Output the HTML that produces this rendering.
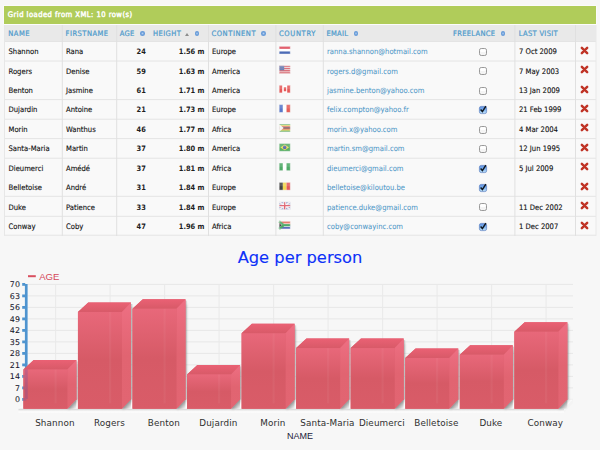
<!DOCTYPE html>
<html lang="en"><head><meta charset="utf-8"><title>EditableGrid demo</title>
<style>
html,body{margin:0;padding:0;}
body{width:600px;height:450px;overflow:hidden;background:#f7f7f7;position:relative;
 font-family:"DejaVu Sans Condensed","DejaVu Sans","Liberation Sans",sans-serif;font-size:7.6px;color:#111;}
#under{position:absolute;left:0;top:0;width:600px;height:450px;}
#cap{position:absolute;left:4px;top:6px;width:592px;height:18px;background:#b0cc5a;color:#fff;box-shadow:0 0 0 0.8px #fcfcfc;
 font:normal 7.6px/18px "DejaVu Sans Condensed","DejaVu Sans","Liberation Sans",sans-serif;text-indent:3.8px;white-space:nowrap;letter-spacing:0.45px;-webkit-text-stroke:0.4px;}
.hc,.c{position:absolute;white-space:nowrap;}
.hc{top:25px;height:16.5px;color:#4f9bcc;text-transform:uppercase;-webkit-text-stroke:0.22px;font:normal 7.5px/17.4px "DejaVu Sans Condensed","DejaVu Sans","Liberation Sans",sans-serif;}
.r{position:absolute;left:0;width:600px;height:19.44px;}
.c{top:0.6px;height:19.44px;line-height:19.44px;letter-spacing:0;-webkit-text-stroke:0.12px;}
.num{font-weight:bold;font-size:7.4px;text-align:right;letter-spacing:0;-webkit-text-stroke:0;color:#1e1e1e;}
.em{color:#4f98c8;-webkit-text-stroke:0.05px;}
.i{display:inline-block;width:4.7px;height:4.7px;border-radius:50%;background:radial-gradient(circle,#b4cef0 0,#94b9e6 18%,#6c9fda 42%,#5c92d4 100%);vertical-align:-0.1px;margin-left:5.3px;box-sizing:border-box;}
.up{display:inline-block;width:0;height:0;border-left:2.1px solid transparent;border-right:2.1px solid transparent;border-bottom:3px solid #8c8c8c;margin-left:4px;vertical-align:0.2px;}
.cb{position:absolute;width:8px;height:8px;top:6.4px;}
.x{position:absolute;top:4.2px;width:9px;height:9px;}
#chart{position:absolute;left:0;top:236px;width:600px;height:214px;}
</style></head><body>

<svg id="under" viewBox="0 0 600 450" width="600" height="450">
<defs><linearGradient id="cg" x1="0" y1="0" x2="0" y2="1"><stop offset="0" stop-color="#5f8fe0"/><stop offset="0.5" stop-color="#7fb4f0"/><stop offset="1" stop-color="#c4e4fa"/></linearGradient></defs>
<rect x="4.5" y="24" width="591.5" height="1.2" fill="#fdfdfd"/>
<rect x="4.5" y="25.0" width="591.5" height="16.5" fill="#e9e9e9"/>
<rect x="4.5" y="41.5" width="591.5" height="194.40" fill="#f9f9f9"/>
<line x1="4.5" y1="41.5" x2="596.0" y2="41.5" stroke="#e4e4e4" stroke-width="1"/>
<line x1="4.5" y1="61.0" x2="596.0" y2="61.0" stroke="#e4e4e4" stroke-width="1"/>
<line x1="4.5" y1="99.6" x2="596.0" y2="99.6" stroke="#e4e4e4" stroke-width="1"/>
<line x1="4.5" y1="119.2" x2="596.0" y2="119.2" stroke="#e4e4e4" stroke-width="1"/>
<line x1="4.5" y1="138.6" x2="596.0" y2="138.6" stroke="#e4e4e4" stroke-width="1"/>
<line x1="4.5" y1="158.2" x2="596.0" y2="158.2" stroke="#e4e4e4" stroke-width="1"/>
<line x1="4.5" y1="196.3" x2="596.0" y2="196.3" stroke="#e4e4e4" stroke-width="1"/>
<line x1="4.5" y1="216.3" x2="596.0" y2="216.3" stroke="#e4e4e4" stroke-width="1"/>
<line x1="4.5" y1="235.2" x2="596.0" y2="235.2" stroke="#e4e4e4" stroke-width="1"/>
<line x1="62.3" y1="25.0" x2="62.3" y2="235.90" stroke="#e0e0e0" stroke-width="1"/>
<line x1="116.7" y1="25.0" x2="116.7" y2="235.90" stroke="#e0e0e0" stroke-width="1"/>
<line x1="208.5" y1="25.0" x2="208.5" y2="235.90" stroke="#e0e0e0" stroke-width="1"/>
<line x1="275.9" y1="25.0" x2="275.9" y2="235.90" stroke="#e0e0e0" stroke-width="1"/>
<line x1="323.3" y1="25.0" x2="323.3" y2="235.90" stroke="#e0e0e0" stroke-width="1"/>
<line x1="514.9" y1="25.0" x2="514.9" y2="235.90" stroke="#e0e0e0" stroke-width="1"/>
<line x1="575.5" y1="25.0" x2="575.5" y2="235.90" stroke="#e0e0e0" stroke-width="1"/>
<line x1="4.5" y1="25.0" x2="4.5" y2="235.90" stroke="#e7e7e7" stroke-width="1"/>
<line x1="596.0" y1="25.0" x2="596.0" y2="235.90" stroke="#e9e9e9" stroke-width="1"/>
<g transform="translate(279.2,46.4)"><rect x="0" y="0" width="11.0" height="2.533333333333333" fill="#d8283c"/><rect x="0" y="2.533333333333333" width="11.0" height="2.533333333333333" fill="#fff"/><rect x="0" y="5.066666666666666" width="11.0" height="2.533333333333333" fill="#2a4fa8"/><rect x="0" y="0" width="11.0" height="7.6" fill="#fff" opacity="0.16"/><rect x="0" y="0" width="11.0" height="3.8" fill="#fff" opacity="0.12"/><rect x="0" y="0" width="11.0" height="7.6" fill="none" stroke="#f4f4f4" stroke-opacity="0.6" stroke-width="0.7"/></g>
<g transform="translate(279.2,65.84)"><rect x="0" y="0" width="11.0" height="7.6" fill="#e9c9cc"/><rect x="0" y="0.0" width="11.0" height="1.0857142857142856" fill="#d0404c"/><rect x="0" y="2.1714285714285713" width="11.0" height="1.0857142857142856" fill="#d0404c"/><rect x="0" y="4.3428571428571425" width="11.0" height="1.0857142857142856" fill="#d0404c"/><rect x="0" y="6.514285714285713" width="11.0" height="1.0857142857142856" fill="#d0404c"/><rect x="0" y="0" width="5" height="4.4" fill="#4a5fa0"/><rect x="0" y="0" width="11.0" height="7.6" fill="#fff" opacity="0.16"/><rect x="0" y="0" width="11.0" height="3.8" fill="#fff" opacity="0.12"/><rect x="0" y="0" width="11.0" height="7.6" fill="none" stroke="#f4f4f4" stroke-opacity="0.6" stroke-width="0.7"/></g>
<g transform="translate(279.2,85.28)"><rect x="0" y="0" width="11.0" height="7.6" fill="#fff"/><rect x="0" y="0" width="3" height="7.6" fill="#e03a3a"/><rect x="8.0" y="0" width="3" height="7.6" fill="#e03a3a"/><rect x="4.6" y="2" width="2.4" height="4" fill="#e03a3a"/><rect x="0" y="0" width="11.0" height="7.6" fill="#fff" opacity="0.16"/><rect x="0" y="0" width="11.0" height="3.8" fill="#fff" opacity="0.12"/><rect x="0" y="0" width="11.0" height="7.6" fill="none" stroke="#f4f4f4" stroke-opacity="0.6" stroke-width="0.7"/></g>
<g transform="translate(279.2,104.72)"><rect x="0" y="0" width="3.6666666666666665" height="7.6" fill="#3a5fc0"/><rect x="3.6666666666666665" y="0" width="3.6666666666666665" height="7.6" fill="#fff"/><rect x="7.333333333333333" y="0" width="3.6666666666666665" height="7.6" fill="#e0403a"/><rect x="0" y="0" width="11.0" height="7.6" fill="#fff" opacity="0.16"/><rect x="0" y="0" width="11.0" height="3.8" fill="#fff" opacity="0.12"/><rect x="0" y="0" width="11.0" height="7.6" fill="none" stroke="#f4f4f4" stroke-opacity="0.6" stroke-width="0.7"/></g>
<g transform="translate(279.2,124.16)"><rect x="0" y="0.0" width="11.0" height="1.1857142857142857" fill="#3a9a3a"/><rect x="0" y="1.0857142857142856" width="11.0" height="1.1857142857142857" fill="#e8d040"/><rect x="0" y="2.1714285714285713" width="11.0" height="1.1857142857142857" fill="#d03030"/><rect x="0" y="3.2571428571428567" width="11.0" height="1.1857142857142857" fill="#222"/><rect x="0" y="4.3428571428571425" width="11.0" height="1.1857142857142857" fill="#d03030"/><rect x="0" y="5.428571428571429" width="11.0" height="1.1857142857142857" fill="#e8d040"/><rect x="0" y="6.514285714285713" width="11.0" height="1.1857142857142857" fill="#3a9a3a"/><polygon points="0,0 4.5,3.8 0,7.6" fill="#f4f4f4"/><rect x="0" y="0" width="11.0" height="7.6" fill="#fff" opacity="0.16"/><rect x="0" y="0" width="11.0" height="3.8" fill="#fff" opacity="0.12"/><rect x="0" y="0" width="11.0" height="7.6" fill="none" stroke="#f4f4f4" stroke-opacity="0.6" stroke-width="0.7"/></g>
<g transform="translate(279.2,143.6)"><rect x="0" y="0" width="11.0" height="7.6" fill="#3aa04a"/><polygon points="1.2,3.8 5.5,1 9.8,3.8 5.5,6.6" fill="#f0d840"/><circle cx="5.5" cy="3.8" r="1.8" fill="#3a50a0"/><rect x="0" y="0" width="11.0" height="7.6" fill="#fff" opacity="0.16"/><rect x="0" y="0" width="11.0" height="3.8" fill="#fff" opacity="0.12"/><rect x="0" y="0" width="11.0" height="7.6" fill="none" stroke="#f4f4f4" stroke-opacity="0.6" stroke-width="0.7"/></g>
<g transform="translate(279.2,163.04)"><rect x="0" y="0" width="3.6666666666666665" height="7.6" fill="#2e9a4a"/><rect x="3.6666666666666665" y="0" width="3.6666666666666665" height="7.6" fill="#fff"/><rect x="7.333333333333333" y="0" width="3.6666666666666665" height="7.6" fill="#2e9a4a"/><rect x="0" y="0" width="11.0" height="7.6" fill="#fff" opacity="0.16"/><rect x="0" y="0" width="11.0" height="3.8" fill="#fff" opacity="0.12"/><rect x="0" y="0" width="11.0" height="7.6" fill="none" stroke="#f4f4f4" stroke-opacity="0.6" stroke-width="0.7"/></g>
<g transform="translate(279.2,182.48)"><rect x="0" y="0" width="3.6666666666666665" height="7.6" fill="#222"/><rect x="3.6666666666666665" y="0" width="3.6666666666666665" height="7.6" fill="#f0d030"/><rect x="7.333333333333333" y="0" width="3.6666666666666665" height="7.6" fill="#e03a3a"/><rect x="0" y="0" width="11.0" height="7.6" fill="#fff" opacity="0.16"/><rect x="0" y="0" width="11.0" height="3.8" fill="#fff" opacity="0.12"/><rect x="0" y="0" width="11.0" height="7.6" fill="none" stroke="#f4f4f4" stroke-opacity="0.6" stroke-width="0.7"/></g>
<g transform="translate(279.2,201.92)"><rect x="0" y="0" width="11.0" height="7.6" fill="#8a96c8"/><path d="M0,0 L11.0,7.6 M11.0,0 L0,7.6" stroke="#f0e8ee" stroke-width="1.6"/><path d="M5.5,0 V7.6 M0,3.8 H11.0" stroke="#fff" stroke-width="2.6"/><path d="M5.5,0 V7.6 M0,3.8 H11.0" stroke="#d84050" stroke-width="1.3"/><rect x="0" y="0" width="11.0" height="7.6" fill="#fff" opacity="0.16"/><rect x="0" y="0" width="11.0" height="3.8" fill="#fff" opacity="0.12"/><rect x="0" y="0" width="11.0" height="7.6" fill="none" stroke="#f4f4f4" stroke-opacity="0.6" stroke-width="0.7"/></g>
<g transform="translate(279.2,221.36)"><rect x="0" y="0" width="11.0" height="3.8" fill="#e0503a"/><rect x="0" y="3.8" width="11.0" height="3.8" fill="#3a50b0"/><path d="M0,3.8 H11.0" stroke="#fff" stroke-width="3.4"/><path d="M0,0 L4.6,3.8 L0,7.6 M4.6,3.8 H11.0" stroke="#2e9a4a" stroke-width="2.2" fill="none"/><polygon points="0,1.6 2.6,3.8 0,6.0" fill="#222"/><rect x="0" y="0" width="11.0" height="7.6" fill="#fff" opacity="0.16"/><rect x="0" y="0" width="11.0" height="3.8" fill="#fff" opacity="0.12"/><rect x="0" y="0" width="11.0" height="7.6" fill="none" stroke="#f4f4f4" stroke-opacity="0.6" stroke-width="0.7"/></g>
</svg>
<div id="cap">Grid loaded from XML: 10 row(s)</div>
<div class="hc" style="left:8.3px;letter-spacing:0.5px">NAME</div>
<div class="hc" style="left:65.6px;letter-spacing:0.47px">FIRSTNAME</div>
<div class="hc" style="left:119.8px;letter-spacing:0.3px">AGE<span class="i"></span></div>
<div class="hc" style="left:153.0px;letter-spacing:0.42px">HEIGHT<span class="up"></span><span class="i"></span></div>
<div class="hc" style="left:211.5px;letter-spacing:0.55px">CONTINENT<span class="i"></span></div>
<div class="hc" style="left:279.0px;letter-spacing:0.65px">COUNTRY</div>
<div class="hc" style="left:326.4px;letter-spacing:0.28px">EMAIL<span class="i"></span></div>
<div class="hc" style="left:453.0px;letter-spacing:0.3px">FREELANCE<span class="i"></span></div>
<div class="hc" style="left:518.7px;letter-spacing:0.33px">LAST VISIT</div>
<div class="r" style="top:41.50px"><span class="c" style="left:8.5px">Shannon</span><span class="c" style="left:66px">Rana</span><span class="c num" style="left:120px;width:25.8px">24</span><span class="c num" style="left:153px;width:51.5px">1.56 m</span><span class="c" style="left:212px">Europe</span><span class="c em" style="left:327px">ranna.shannon@hotmail.com</span><svg class="cb" style="left:479px" viewBox="0 0 8 8"><rect x="0.5" y="0.5" width="7" height="7" rx="1.8" fill="#f4f4f4" stroke="#8e8e8e" stroke-width="0.9"/><rect x="1.3" y="1.3" width="5.4" height="2.6" rx="1" fill="#fff"/></svg><span class="c" style="left:519px">7 Oct 2009</span><svg class="x" style="left:580.2px" viewBox="0 0 9 9"><path d="M1.85,1.85 L7.15,7.15 M7.15,1.85 L1.85,7.15" stroke="#c03426" stroke-width="2.5" stroke-linecap="round"/></svg></div>
<div class="r" style="top:60.94px"><span class="c" style="left:8.5px">Rogers</span><span class="c" style="left:66px">Denise</span><span class="c num" style="left:120px;width:25.8px">59</span><span class="c num" style="left:153px;width:51.5px">1.63 m</span><span class="c" style="left:212px">America</span><span class="c em" style="left:327px">rogers.d@gmail.com</span><svg class="cb" style="left:479px" viewBox="0 0 8 8"><rect x="0.5" y="0.5" width="7" height="7" rx="1.8" fill="#f4f4f4" stroke="#8e8e8e" stroke-width="0.9"/><rect x="1.3" y="1.3" width="5.4" height="2.6" rx="1" fill="#fff"/></svg><span class="c" style="left:519px">7 May 2003</span><svg class="x" style="left:580.2px" viewBox="0 0 9 9"><path d="M1.85,1.85 L7.15,7.15 M7.15,1.85 L1.85,7.15" stroke="#c03426" stroke-width="2.5" stroke-linecap="round"/></svg></div>
<div class="r" style="top:80.38px"><span class="c" style="left:8.5px">Benton</span><span class="c" style="left:66px">Jasmine</span><span class="c num" style="left:120px;width:25.8px">61</span><span class="c num" style="left:153px;width:51.5px">1.71 m</span><span class="c" style="left:212px">America</span><span class="c em" style="left:327px">jasmine.benton@yahoo.com</span><svg class="cb" style="left:479px" viewBox="0 0 8 8"><rect x="0.5" y="0.5" width="7" height="7" rx="1.8" fill="#f4f4f4" stroke="#8e8e8e" stroke-width="0.9"/><rect x="1.3" y="1.3" width="5.4" height="2.6" rx="1" fill="#fff"/></svg><span class="c" style="left:519px">13 Jan 2009</span><svg class="x" style="left:580.2px" viewBox="0 0 9 9"><path d="M1.85,1.85 L7.15,7.15 M7.15,1.85 L1.85,7.15" stroke="#c03426" stroke-width="2.5" stroke-linecap="round"/></svg></div>
<div class="r" style="top:99.82px"><span class="c" style="left:8.5px">Dujardin</span><span class="c" style="left:66px">Antoine</span><span class="c num" style="left:120px;width:25.8px">21</span><span class="c num" style="left:153px;width:51.5px">1.73 m</span><span class="c" style="left:212px">Europe</span><span class="c em" style="left:327px">felix.compton@yahoo.fr</span><svg class="cb" style="left:479px;overflow:visible" viewBox="0 0 8 8"><rect x="0.4" y="0.4" width="7.2" height="7.2" rx="1.8" fill="url(#cg)" stroke="#5c7fc0" stroke-width="0.7"/><path d="M1.6,3.6 L3.4,5.6 L6.9,0.1" fill="none" stroke="#101820" stroke-width="1.5" stroke-linejoin="miter"/></svg><span class="c" style="left:519px">21 Feb 1999</span><svg class="x" style="left:580.2px" viewBox="0 0 9 9"><path d="M1.85,1.85 L7.15,7.15 M7.15,1.85 L1.85,7.15" stroke="#c03426" stroke-width="2.5" stroke-linecap="round"/></svg></div>
<div class="r" style="top:119.26px"><span class="c" style="left:8.5px">Morin</span><span class="c" style="left:66px">Wanthus</span><span class="c num" style="left:120px;width:25.8px">46</span><span class="c num" style="left:153px;width:51.5px">1.77 m</span><span class="c" style="left:212px">Africa</span><span class="c em" style="left:327px">morin.x@yahoo.com</span><svg class="cb" style="left:479px" viewBox="0 0 8 8"><rect x="0.5" y="0.5" width="7" height="7" rx="1.8" fill="#f4f4f4" stroke="#8e8e8e" stroke-width="0.9"/><rect x="1.3" y="1.3" width="5.4" height="2.6" rx="1" fill="#fff"/></svg><span class="c" style="left:519px">4 Mar 2004</span><svg class="x" style="left:580.2px" viewBox="0 0 9 9"><path d="M1.85,1.85 L7.15,7.15 M7.15,1.85 L1.85,7.15" stroke="#c03426" stroke-width="2.5" stroke-linecap="round"/></svg></div>
<div class="r" style="top:138.70px"><span class="c" style="left:8.5px">Santa-Maria</span><span class="c" style="left:66px">Martin</span><span class="c num" style="left:120px;width:25.8px">37</span><span class="c num" style="left:153px;width:51.5px">1.80 m</span><span class="c" style="left:212px">America</span><span class="c em" style="left:327px">martin.sm@gmail.com</span><svg class="cb" style="left:479px" viewBox="0 0 8 8"><rect x="0.5" y="0.5" width="7" height="7" rx="1.8" fill="#f4f4f4" stroke="#8e8e8e" stroke-width="0.9"/><rect x="1.3" y="1.3" width="5.4" height="2.6" rx="1" fill="#fff"/></svg><span class="c" style="left:519px">12 Jun 1995</span><svg class="x" style="left:580.2px" viewBox="0 0 9 9"><path d="M1.85,1.85 L7.15,7.15 M7.15,1.85 L1.85,7.15" stroke="#c03426" stroke-width="2.5" stroke-linecap="round"/></svg></div>
<div class="r" style="top:158.14px"><span class="c" style="left:8.5px">Dieumerci</span><span class="c" style="left:66px">Amédé</span><span class="c num" style="left:120px;width:25.8px">37</span><span class="c num" style="left:153px;width:51.5px">1.81 m</span><span class="c" style="left:212px">Africa</span><span class="c em" style="left:327px">dieumerci@gmail.com</span><svg class="cb" style="left:479px;overflow:visible" viewBox="0 0 8 8"><rect x="0.4" y="0.4" width="7.2" height="7.2" rx="1.8" fill="url(#cg)" stroke="#5c7fc0" stroke-width="0.7"/><path d="M1.6,3.6 L3.4,5.6 L6.9,0.1" fill="none" stroke="#101820" stroke-width="1.5" stroke-linejoin="miter"/></svg><span class="c" style="left:519px">5 Jul 2009</span><svg class="x" style="left:580.2px" viewBox="0 0 9 9"><path d="M1.85,1.85 L7.15,7.15 M7.15,1.85 L1.85,7.15" stroke="#c03426" stroke-width="2.5" stroke-linecap="round"/></svg></div>
<div class="r" style="top:177.58px"><span class="c" style="left:8.5px">Belletoise</span><span class="c" style="left:66px">André</span><span class="c num" style="left:120px;width:25.8px">31</span><span class="c num" style="left:153px;width:51.5px">1.84 m</span><span class="c" style="left:212px">Europe</span><span class="c em" style="left:327px">belletoise@kiloutou.be</span><svg class="cb" style="left:479px;overflow:visible" viewBox="0 0 8 8"><rect x="0.4" y="0.4" width="7.2" height="7.2" rx="1.8" fill="url(#cg)" stroke="#5c7fc0" stroke-width="0.7"/><path d="M1.6,3.6 L3.4,5.6 L6.9,0.1" fill="none" stroke="#101820" stroke-width="1.5" stroke-linejoin="miter"/></svg><span class="c" style="left:519px"></span><svg class="x" style="left:580.2px" viewBox="0 0 9 9"><path d="M1.85,1.85 L7.15,7.15 M7.15,1.85 L1.85,7.15" stroke="#c03426" stroke-width="2.5" stroke-linecap="round"/></svg></div>
<div class="r" style="top:197.02px"><span class="c" style="left:8.5px">Duke</span><span class="c" style="left:66px">Patience</span><span class="c num" style="left:120px;width:25.8px">33</span><span class="c num" style="left:153px;width:51.5px">1.84 m</span><span class="c" style="left:212px">Europe</span><span class="c em" style="left:327px">patience.duke@gmail.com</span><svg class="cb" style="left:479px" viewBox="0 0 8 8"><rect x="0.5" y="0.5" width="7" height="7" rx="1.8" fill="#f4f4f4" stroke="#8e8e8e" stroke-width="0.9"/><rect x="1.3" y="1.3" width="5.4" height="2.6" rx="1" fill="#fff"/></svg><span class="c" style="left:519px">11 Dec 2002</span><svg class="x" style="left:580.2px" viewBox="0 0 9 9"><path d="M1.85,1.85 L7.15,7.15 M7.15,1.85 L1.85,7.15" stroke="#c03426" stroke-width="2.5" stroke-linecap="round"/></svg></div>
<div class="r" style="top:216.46px"><span class="c" style="left:8.5px">Conway</span><span class="c" style="left:66px">Coby</span><span class="c num" style="left:120px;width:25.8px">47</span><span class="c num" style="left:153px;width:51.5px">1.96 m</span><span class="c" style="left:212px">Africa</span><span class="c em" style="left:327px">coby@conwayinc.com</span><svg class="cb" style="left:479px;overflow:visible" viewBox="0 0 8 8"><rect x="0.4" y="0.4" width="7.2" height="7.2" rx="1.8" fill="url(#cg)" stroke="#5c7fc0" stroke-width="0.7"/><path d="M1.6,3.6 L3.4,5.6 L6.9,0.1" fill="none" stroke="#101820" stroke-width="1.5" stroke-linejoin="miter"/></svg><span class="c" style="left:519px">1 Dec 2007</span><svg class="x" style="left:580.2px" viewBox="0 0 9 9"><path d="M1.85,1.85 L7.15,7.15 M7.15,1.85 L1.85,7.15" stroke="#c03426" stroke-width="2.5" stroke-linecap="round"/></svg></div>
<svg id="chart" viewBox="0 236 600 214" width="600" height="214">
<defs>
<linearGradient id="gf" x1="0" y1="0" x2="0" y2="1"><stop offset="0" stop-color="#e8687a"/><stop offset="0.5" stop-color="#d65a66"/><stop offset="1" stop-color="#d95c68"/></linearGradient>
<linearGradient id="gs" x1="0" y1="0" x2="0" y2="1"><stop offset="0" stop-color="#ee6f83"/><stop offset="0.5" stop-color="#e16471"/><stop offset="1" stop-color="#e26572"/></linearGradient>
<linearGradient id="gt" x1="0" y1="0" x2="0" y2="1"><stop offset="0" stop-color="#ea6174"/><stop offset="1" stop-color="#d85a68"/></linearGradient>
<linearGradient id="gfl" x1="0" y1="0" x2="0" y2="1"><stop offset="0" stop-color="#d3d3d3"/><stop offset="0.28" stop-color="#e6e6e6"/><stop offset="0.5" stop-color="#fafafa"/><stop offset="0.85" stop-color="#fbfbfb"/><stop offset="1" stop-color="#f7f7f7"/></linearGradient>
<linearGradient id="gtri" x1="0.5" y1="0.5" x2="1" y2="1"><stop offset="0" stop-color="#8e8e8e" stop-opacity="0.95"/><stop offset="0.55" stop-color="#c4c4c4" stop-opacity="0.8"/><stop offset="1" stop-color="#f0f0f0" stop-opacity="0.5"/></linearGradient>
<linearGradient id="gstr" x1="0" y1="0" x2="1" y2="0"><stop offset="0" stop-color="#888" stop-opacity="0.6"/><stop offset="1" stop-color="#aaa" stop-opacity="0"/></linearGradient>
<filter id="sh" x="-20%" y="-20%" width="150%" height="140%"><feGaussianBlur stdDeviation="1.3"/></filter>
</defs>
<text x="300" y="263.3" text-anchor="middle" font-family="'DejaVu Sans','Liberation Sans',sans-serif" font-size="16.3" fill="#0d31f8" stroke="#0d31f8" stroke-width="0.12">Age per person</text>
<rect x="28" y="275.2" width="7.8" height="2" fill="#d9505f"/>
<text x="39.2" y="279.7" font-family="'Liberation Sans',sans-serif" font-size="9.6" fill="#d5485a">AGE</text>
<line x1="27.5" y1="399.40" x2="573.0" y2="399.40" stroke="#e7e7e7" stroke-width="1"/>
<line x1="27.5" y1="387.90" x2="573.0" y2="387.90" stroke="#e7e7e7" stroke-width="1"/>
<line x1="27.5" y1="376.40" x2="573.0" y2="376.40" stroke="#e7e7e7" stroke-width="1"/>
<line x1="27.5" y1="364.90" x2="573.0" y2="364.90" stroke="#e7e7e7" stroke-width="1"/>
<line x1="27.5" y1="353.40" x2="573.0" y2="353.40" stroke="#e7e7e7" stroke-width="1"/>
<line x1="27.5" y1="341.90" x2="573.0" y2="341.90" stroke="#e7e7e7" stroke-width="1"/>
<line x1="27.5" y1="330.40" x2="573.0" y2="330.40" stroke="#e7e7e7" stroke-width="1"/>
<line x1="27.5" y1="318.90" x2="573.0" y2="318.90" stroke="#e7e7e7" stroke-width="1"/>
<line x1="27.5" y1="307.40" x2="573.0" y2="307.40" stroke="#e7e7e7" stroke-width="1"/>
<line x1="27.5" y1="295.90" x2="573.0" y2="295.90" stroke="#e7e7e7" stroke-width="1"/>
<line x1="27.5" y1="284.40" x2="573.0" y2="284.40" stroke="#e7e7e7" stroke-width="1"/>
<line x1="55.60" y1="284.40" x2="55.60" y2="403.40" stroke="#e9e9e9" stroke-width="1"/>
<line x1="110.10" y1="284.40" x2="110.10" y2="403.40" stroke="#e9e9e9" stroke-width="1"/>
<line x1="164.60" y1="284.40" x2="164.60" y2="403.40" stroke="#e9e9e9" stroke-width="1"/>
<line x1="219.10" y1="284.40" x2="219.10" y2="403.40" stroke="#e9e9e9" stroke-width="1"/>
<line x1="273.60" y1="284.40" x2="273.60" y2="403.40" stroke="#e9e9e9" stroke-width="1"/>
<line x1="328.10" y1="284.40" x2="328.10" y2="403.40" stroke="#e9e9e9" stroke-width="1"/>
<line x1="382.60" y1="284.40" x2="382.60" y2="403.40" stroke="#e9e9e9" stroke-width="1"/>
<line x1="437.10" y1="284.40" x2="437.10" y2="403.40" stroke="#e9e9e9" stroke-width="1"/>
<line x1="491.60" y1="284.40" x2="491.60" y2="403.40" stroke="#e9e9e9" stroke-width="1"/>
<line x1="546.10" y1="284.40" x2="546.10" y2="403.40" stroke="#e9e9e9" stroke-width="1"/>
<polygon points="27.5,399.4 573,399.4 564,408.8 18.5,408.8" fill="#fbfbfb"/>
<polygon points="564,408.8 573,399.4 573,403 564,412.4" fill="#f4f4f4"/>
<rect x="18.5" y="408.8" width="545.5" height="4.6" fill="url(#gfl)"/>
<text x="20.3" y="402.40" text-anchor="end" font-family="'DejaVu Sans',sans-serif" font-size="7.9" letter-spacing="0.25" fill="#1a1a30" stroke="#1a1a30" stroke-width="0.08">0</text>
<text x="20.3" y="390.90" text-anchor="end" font-family="'DejaVu Sans',sans-serif" font-size="7.9" letter-spacing="0.25" fill="#1a1a30" stroke="#1a1a30" stroke-width="0.08">7</text>
<text x="20.3" y="379.40" text-anchor="end" font-family="'DejaVu Sans',sans-serif" font-size="7.9" letter-spacing="0.25" fill="#1a1a30" stroke="#1a1a30" stroke-width="0.08">14</text>
<text x="20.3" y="367.90" text-anchor="end" font-family="'DejaVu Sans',sans-serif" font-size="7.9" letter-spacing="0.25" fill="#1a1a30" stroke="#1a1a30" stroke-width="0.08">21</text>
<text x="20.3" y="356.40" text-anchor="end" font-family="'DejaVu Sans',sans-serif" font-size="7.9" letter-spacing="0.25" fill="#1a1a30" stroke="#1a1a30" stroke-width="0.08">28</text>
<text x="20.3" y="344.90" text-anchor="end" font-family="'DejaVu Sans',sans-serif" font-size="7.9" letter-spacing="0.25" fill="#1a1a30" stroke="#1a1a30" stroke-width="0.08">35</text>
<text x="20.3" y="333.40" text-anchor="end" font-family="'DejaVu Sans',sans-serif" font-size="7.9" letter-spacing="0.25" fill="#1a1a30" stroke="#1a1a30" stroke-width="0.08">42</text>
<text x="20.3" y="321.90" text-anchor="end" font-family="'DejaVu Sans',sans-serif" font-size="7.9" letter-spacing="0.25" fill="#1a1a30" stroke="#1a1a30" stroke-width="0.08">49</text>
<text x="20.3" y="310.40" text-anchor="end" font-family="'DejaVu Sans',sans-serif" font-size="7.9" letter-spacing="0.25" fill="#1a1a30" stroke="#1a1a30" stroke-width="0.08">56</text>
<text x="20.3" y="298.90" text-anchor="end" font-family="'DejaVu Sans',sans-serif" font-size="7.9" letter-spacing="0.25" fill="#1a1a30" stroke="#1a1a30" stroke-width="0.08">63</text>
<text x="20.3" y="287.40" text-anchor="end" font-family="'DejaVu Sans',sans-serif" font-size="7.9" letter-spacing="0.25" fill="#1a1a30" stroke="#1a1a30" stroke-width="0.08">70</text>
<rect x="24.9" y="284" width="2.7" height="115.00" fill="#4f94cf"/>
<rect x="22.2" y="398.00" width="3" height="2.8" fill="#4f94cf"/>
<rect x="22.2" y="386.50" width="3" height="2.8" fill="#4f94cf"/>
<rect x="22.2" y="375.00" width="3" height="2.8" fill="#4f94cf"/>
<rect x="22.2" y="363.50" width="3" height="2.8" fill="#4f94cf"/>
<rect x="22.2" y="352.00" width="3" height="2.8" fill="#4f94cf"/>
<rect x="22.2" y="340.50" width="3" height="2.8" fill="#4f94cf"/>
<rect x="22.2" y="329.00" width="3" height="2.8" fill="#4f94cf"/>
<rect x="22.2" y="317.50" width="3" height="2.8" fill="#4f94cf"/>
<rect x="22.2" y="306.00" width="3" height="2.8" fill="#4f94cf"/>
<rect x="22.2" y="294.50" width="3" height="2.8" fill="#4f94cf"/>
<rect x="22.2" y="283.00" width="3" height="2.8" fill="#4f94cf"/>
<polygon points="68.40,410.30 68.40,372.47 77.90,363.97 77.90,400.80" fill="#707070" opacity="0.3" filter="url(#sh)"/>
<polygon points="67.40,408.80 76.40,399.30 76.40,408.80" fill="url(#gtri)"/>
<rect x="76.40" y="361.47" width="2.2" height="37.83" fill="url(#gstr)"/>
<polygon points="23.40,369.47 33.70,359.97 76.40,359.97 76.40,399.30 67.40,408.80 23.40,408.80" fill="#df6170"/>
<polygon points="23.40,369.47 67.40,369.47 76.40,359.97 33.70,359.97" fill="url(#gt)"/>
<polygon points="67.40,369.47 76.40,359.97 76.40,399.30 67.40,408.80" fill="url(#gs)"/>
<rect x="23.40" y="369.47" width="44.00" height="39.33" fill="url(#gf)"/>
<line x1="55.60" y1="369.47" x2="55.60" y2="403.40" stroke="#fff" stroke-opacity="0.045" stroke-width="2.2"/>
<polygon points="122.95,410.30 122.95,314.97 132.45,306.47 132.45,400.80" fill="#707070" opacity="0.3" filter="url(#sh)"/>
<polygon points="121.95,408.80 130.95,399.30 130.95,408.80" fill="url(#gtri)"/>
<rect x="130.95" y="303.97" width="2.2" height="95.33" fill="url(#gstr)"/>
<polygon points="77.95,311.97 88.25,302.47 130.95,302.47 130.95,399.30 121.95,408.80 77.95,408.80" fill="#df6170"/>
<polygon points="77.95,311.97 121.95,311.97 130.95,302.47 88.25,302.47" fill="url(#gt)"/>
<polygon points="121.95,311.97 130.95,302.47 130.95,399.30 121.95,408.80" fill="url(#gs)"/>
<rect x="77.95" y="311.97" width="44.00" height="96.83" fill="url(#gf)"/>
<line x1="110.10" y1="311.97" x2="110.10" y2="403.40" stroke="#fff" stroke-opacity="0.045" stroke-width="2.2"/>
<polygon points="177.50,410.30 177.50,311.69 187.00,303.19 187.00,400.80" fill="#707070" opacity="0.3" filter="url(#sh)"/>
<polygon points="176.50,408.80 185.50,399.30 185.50,408.80" fill="url(#gtri)"/>
<rect x="185.50" y="300.69" width="2.2" height="98.61" fill="url(#gstr)"/>
<polygon points="132.50,308.69 142.80,299.19 185.50,299.19 185.50,399.30 176.50,408.80 132.50,408.80" fill="#df6170"/>
<polygon points="132.50,308.69 176.50,308.69 185.50,299.19 142.80,299.19" fill="url(#gt)"/>
<polygon points="176.50,308.69 185.50,299.19 185.50,399.30 176.50,408.80" fill="url(#gs)"/>
<rect x="132.50" y="308.69" width="44.00" height="100.11" fill="url(#gf)"/>
<line x1="164.60" y1="308.69" x2="164.60" y2="403.40" stroke="#fff" stroke-opacity="0.045" stroke-width="2.2"/>
<polygon points="232.05,410.30 232.05,377.40 241.55,368.90 241.55,400.80" fill="#707070" opacity="0.3" filter="url(#sh)"/>
<polygon points="231.05,408.80 240.05,399.30 240.05,408.80" fill="url(#gtri)"/>
<rect x="240.05" y="366.40" width="2.2" height="32.90" fill="url(#gstr)"/>
<polygon points="187.05,374.40 197.35,364.90 240.05,364.90 240.05,399.30 231.05,408.80 187.05,408.80" fill="#df6170"/>
<polygon points="187.05,374.40 231.05,374.40 240.05,364.90 197.35,364.90" fill="url(#gt)"/>
<polygon points="231.05,374.40 240.05,364.90 240.05,399.30 231.05,408.80" fill="url(#gs)"/>
<rect x="187.05" y="374.40" width="44.00" height="34.40" fill="url(#gf)"/>
<line x1="219.10" y1="374.40" x2="219.10" y2="403.40" stroke="#fff" stroke-opacity="0.045" stroke-width="2.2"/>
<polygon points="286.60,410.30 286.60,336.33 296.10,327.83 296.10,400.80" fill="#707070" opacity="0.3" filter="url(#sh)"/>
<polygon points="285.60,408.80 294.60,399.30 294.60,408.80" fill="url(#gtri)"/>
<rect x="294.60" y="325.33" width="2.2" height="73.97" fill="url(#gstr)"/>
<polygon points="241.60,333.33 251.90,323.83 294.60,323.83 294.60,399.30 285.60,408.80 241.60,408.80" fill="#df6170"/>
<polygon points="241.60,333.33 285.60,333.33 294.60,323.83 251.90,323.83" fill="url(#gt)"/>
<polygon points="285.60,333.33 294.60,323.83 294.60,399.30 285.60,408.80" fill="url(#gs)"/>
<rect x="241.60" y="333.33" width="44.00" height="75.47" fill="url(#gf)"/>
<line x1="273.60" y1="333.33" x2="273.60" y2="403.40" stroke="#fff" stroke-opacity="0.045" stroke-width="2.2"/>
<polygon points="341.15,410.30 341.15,351.11 350.65,342.61 350.65,400.80" fill="#707070" opacity="0.3" filter="url(#sh)"/>
<polygon points="340.15,408.80 349.15,399.30 349.15,408.80" fill="url(#gtri)"/>
<rect x="349.15" y="340.11" width="2.2" height="59.19" fill="url(#gstr)"/>
<polygon points="296.15,348.11 306.45,338.61 349.15,338.61 349.15,399.30 340.15,408.80 296.15,408.80" fill="#df6170"/>
<polygon points="296.15,348.11 340.15,348.11 349.15,338.61 306.45,338.61" fill="url(#gt)"/>
<polygon points="340.15,348.11 349.15,338.61 349.15,399.30 340.15,408.80" fill="url(#gs)"/>
<rect x="296.15" y="348.11" width="44.00" height="60.69" fill="url(#gf)"/>
<line x1="328.10" y1="348.11" x2="328.10" y2="403.40" stroke="#fff" stroke-opacity="0.045" stroke-width="2.2"/>
<polygon points="395.70,410.30 395.70,351.11 405.20,342.61 405.20,400.80" fill="#707070" opacity="0.3" filter="url(#sh)"/>
<polygon points="394.70,408.80 403.70,399.30 403.70,408.80" fill="url(#gtri)"/>
<rect x="403.70" y="340.11" width="2.2" height="59.19" fill="url(#gstr)"/>
<polygon points="350.70,348.11 361.00,338.61 403.70,338.61 403.70,399.30 394.70,408.80 350.70,408.80" fill="#df6170"/>
<polygon points="350.70,348.11 394.70,348.11 403.70,338.61 361.00,338.61" fill="url(#gt)"/>
<polygon points="394.70,348.11 403.70,338.61 403.70,399.30 394.70,408.80" fill="url(#gs)"/>
<rect x="350.70" y="348.11" width="44.00" height="60.69" fill="url(#gf)"/>
<line x1="382.60" y1="348.11" x2="382.60" y2="403.40" stroke="#fff" stroke-opacity="0.045" stroke-width="2.2"/>
<polygon points="450.25,410.30 450.25,360.97 459.75,352.47 459.75,400.80" fill="#707070" opacity="0.3" filter="url(#sh)"/>
<polygon points="449.25,408.80 458.25,399.30 458.25,408.80" fill="url(#gtri)"/>
<rect x="458.25" y="349.97" width="2.2" height="49.33" fill="url(#gstr)"/>
<polygon points="405.25,357.97 415.55,348.47 458.25,348.47 458.25,399.30 449.25,408.80 405.25,408.80" fill="#df6170"/>
<polygon points="405.25,357.97 449.25,357.97 458.25,348.47 415.55,348.47" fill="url(#gt)"/>
<polygon points="449.25,357.97 458.25,348.47 458.25,399.30 449.25,408.80" fill="url(#gs)"/>
<rect x="405.25" y="357.97" width="44.00" height="50.83" fill="url(#gf)"/>
<line x1="437.10" y1="357.97" x2="437.10" y2="403.40" stroke="#fff" stroke-opacity="0.045" stroke-width="2.2"/>
<polygon points="504.80,410.30 504.80,357.69 514.30,349.19 514.30,400.80" fill="#707070" opacity="0.3" filter="url(#sh)"/>
<polygon points="503.80,408.80 512.80,399.30 512.80,408.80" fill="url(#gtri)"/>
<rect x="512.80" y="346.69" width="2.2" height="52.61" fill="url(#gstr)"/>
<polygon points="459.80,354.69 470.10,345.19 512.80,345.19 512.80,399.30 503.80,408.80 459.80,408.80" fill="#df6170"/>
<polygon points="459.80,354.69 503.80,354.69 512.80,345.19 470.10,345.19" fill="url(#gt)"/>
<polygon points="503.80,354.69 512.80,345.19 512.80,399.30 503.80,408.80" fill="url(#gs)"/>
<rect x="459.80" y="354.69" width="44.00" height="54.11" fill="url(#gf)"/>
<line x1="491.60" y1="354.69" x2="491.60" y2="403.40" stroke="#fff" stroke-opacity="0.045" stroke-width="2.2"/>
<polygon points="559.35,410.30 559.35,334.69 568.85,326.19 568.85,400.80" fill="#707070" opacity="0.3" filter="url(#sh)"/>
<polygon points="558.35,408.80 567.35,399.30 567.35,408.80" fill="url(#gtri)"/>
<rect x="567.35" y="323.69" width="2.2" height="75.61" fill="url(#gstr)"/>
<polygon points="514.35,331.69 524.65,322.19 567.35,322.19 567.35,399.30 558.35,408.80 514.35,408.80" fill="#df6170"/>
<polygon points="514.35,331.69 558.35,331.69 567.35,322.19 524.65,322.19" fill="url(#gt)"/>
<polygon points="558.35,331.69 567.35,322.19 567.35,399.30 558.35,408.80" fill="url(#gs)"/>
<rect x="514.35" y="331.69" width="44.00" height="77.11" fill="url(#gf)"/>
<line x1="546.10" y1="331.69" x2="546.10" y2="403.40" stroke="#fff" stroke-opacity="0.045" stroke-width="2.2"/>
<g opacity="0.2"><rect x="24.8" y="369.47" width="3" height="29.53" fill="#4040b0"/>
<rect x="23.3" y="398.00" width="3" height="2.8" fill="#3060c0"/>
<rect x="23.3" y="386.50" width="3" height="2.8" fill="#3060c0"/>
<rect x="23.3" y="375.00" width="3" height="2.8" fill="#3060c0"/>
</g>
<text x="54.90" y="425.5" text-anchor="middle" font-family="'DejaVu Sans',sans-serif" font-size="8.8" letter-spacing="0.12" fill="#303030">Shannon</text>
<text x="109.40" y="425.5" text-anchor="middle" font-family="'DejaVu Sans',sans-serif" font-size="8.8" letter-spacing="0.12" fill="#303030">Rogers</text>
<text x="163.90" y="425.5" text-anchor="middle" font-family="'DejaVu Sans',sans-serif" font-size="8.8" letter-spacing="0.12" fill="#303030">Benton</text>
<text x="218.40" y="425.5" text-anchor="middle" font-family="'DejaVu Sans',sans-serif" font-size="8.8" letter-spacing="0.12" fill="#303030">Dujardin</text>
<text x="272.90" y="425.5" text-anchor="middle" font-family="'DejaVu Sans',sans-serif" font-size="8.8" letter-spacing="0.12" fill="#303030">Morin</text>
<text x="327.40" y="425.5" text-anchor="middle" font-family="'DejaVu Sans',sans-serif" font-size="8.8" letter-spacing="0.12" fill="#303030">Santa-Maria</text>
<text x="381.90" y="425.5" text-anchor="middle" font-family="'DejaVu Sans',sans-serif" font-size="8.8" letter-spacing="0.12" fill="#303030">Dieumerci</text>
<text x="436.40" y="425.5" text-anchor="middle" font-family="'DejaVu Sans',sans-serif" font-size="8.8" letter-spacing="0.12" fill="#303030">Belletoise</text>
<text x="490.90" y="425.5" text-anchor="middle" font-family="'DejaVu Sans',sans-serif" font-size="8.8" letter-spacing="0.12" fill="#303030">Duke</text>
<text x="545.40" y="425.5" text-anchor="middle" font-family="'DejaVu Sans',sans-serif" font-size="8.8" letter-spacing="0.12" fill="#303030">Conway</text>
<text x="300" y="439.3" text-anchor="middle" font-family="'Liberation Sans',sans-serif" font-size="9" fill="#1a1a3a">NAME</text>
</svg>
</body></html>
